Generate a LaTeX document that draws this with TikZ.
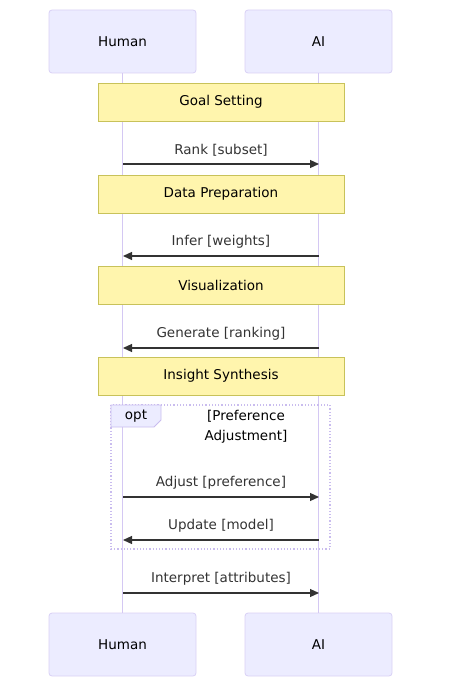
\documentclass[tikz,border=0pt]{standalone}
\usepackage{fontspec}
\setmainfont{DejaVu Sans}
\usetikzlibrary{arrows.meta}
\definecolor{actorfill}{HTML}{ECECFF}
\definecolor{actorline}{HTML}{D9D0F5}
\definecolor{lifeline}{HTML}{D4C8F3}
\definecolor{notefill}{HTML}{FFF5AD}
\definecolor{noteline}{HTML}{C8C25A}
\definecolor{msgline}{HTML}{333333}
\definecolor{loopline}{HTML}{C9BCEE}
\begin{document}
\begin{tikzpicture}[x=1pt,y=-1pt,
  txt/.style={font=\fontsize{13.5}{16}\selectfont},
  actor/.style={txt,draw=actorline,fill=actorfill,rounded corners=3pt,line width=0.8pt,
    minimum width=147pt,minimum height=63pt,inner sep=0pt},
  notebox/.style={txt,draw=noteline,fill=notefill,line width=0.8pt,minimum width=246pt,
    minimum height=38pt,inner sep=0pt},
  life/.style={draw=lifeline,line width=1.2pt},
  msg/.style={draw=msgline,line width=1.2pt,-{Triangle[length=9pt,width=8pt]}},
  msgtext/.style={txt,text=msgline,inner sep=0pt},
  optframe/.style={draw=loopline,line width=1.2pt,dotted},
]
\useasboundingbox (0,0) rectangle (450,700);

% participants, top and bottom
\node[actor] (h1) at (122.5,41.5) {Human};
\node[actor] (a1) at (318.5,41.5) {AI};
\node[actor] (h2) at (122.5,644.5) {Human};
\node[actor] (a2) at (318.5,644.5) {AI};

% lifelines
\draw[life] (h1.south) -- (h2.north);
\draw[life] (a1.south) -- (a2.north);

% notes spanning both lifelines
\node[notebox] (n1) at (221,102) {Goal Setting};
\node[notebox] (n2) at (221,194) {Data Preparation};
\node[notebox] (n3) at (221,285) {Visualization};
\node[notebox] (n4) at (221,376) {Insight Synthesis};

% message anchor points on the lifelines
\coordinate (hR) at (123,164); \coordinate (aR) at (319,164);
\coordinate (hI) at (123,256); \coordinate (aI) at (319,256);
\coordinate (hG) at (123,348); \coordinate (aG) at (319,348);
\coordinate (hA) at (123,497); \coordinate (aA) at (319,497);
\coordinate (hU) at (123,540); \coordinate (aU) at (319,540);
\coordinate (hP) at (123,593); \coordinate (aP) at (319,593);

\draw[msg] (hR) -- (aR) node[msgtext,midway,above=7pt] (tR) {Rank [subset]};
\draw[msg] (aI) -- (hI) node[msgtext,midway,above=7pt] (tI) {Infer [weights]};
\draw[msg] (aG) -- (hG) node[msgtext,midway,above=7pt] (tG) {Generate [ranking]};

% optional block
\draw[optframe] (111,405) rectangle (330,549);
\draw[draw=loopline,fill=actorfill,line width=0.8pt] (111,405) -- (161,405) -- (161,420) -- (154,427) -- (111,427) -- cycle;
\node[msgtext,text=black] (optlbl) at (136,416) {opt};
\node[msgtext,text=black,align=center,font=\fontsize{13.5}{20}\selectfont] (optcond) at (246,427) {[Preference\\Adjustment]};

\draw[msg] (hA) -- (aA) node[msgtext,midway,above=7pt] (tA) {Adjust [preference]};
\draw[msg] (aU) -- (hU) node[msgtext,midway,above=7pt] (tU) {Update [model]};

\draw[msg] (hP) -- (aP) node[msgtext,midway,above=7pt] (tP) {Interpret [attributes]};
\end{tikzpicture}
\end{document}
